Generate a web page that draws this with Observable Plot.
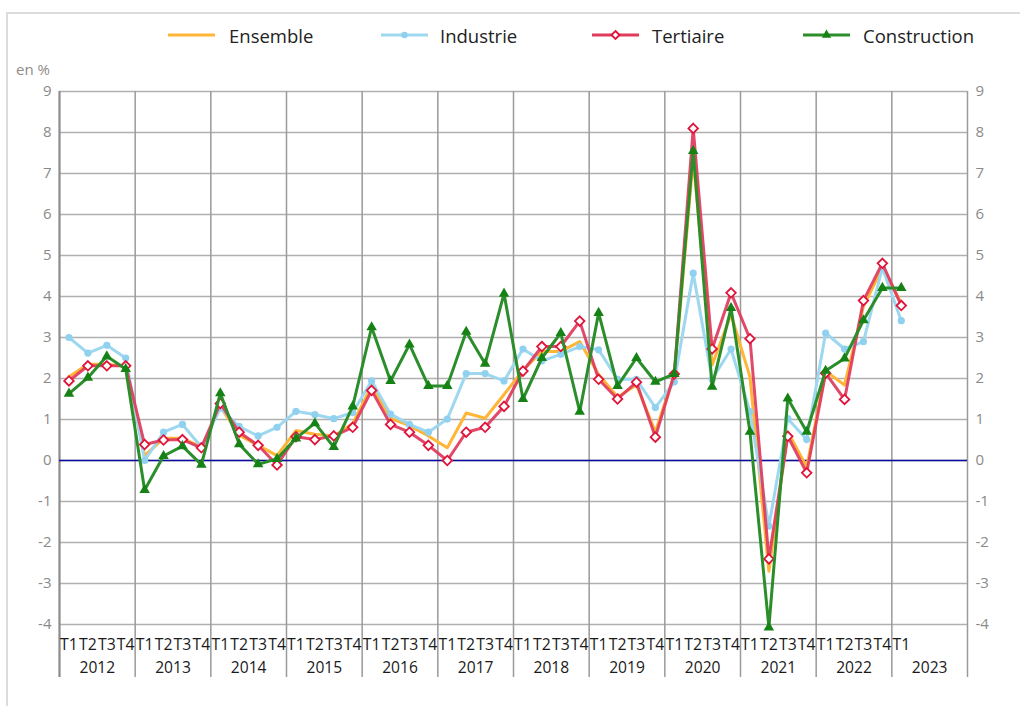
<!DOCTYPE html>
<html>
<head>
<meta charset="utf-8">
<script src="https://cdn.jsdelivr.net/npm/d3@7"></script>
<script src="https://cdn.jsdelivr.net/npm/@observablehq/plot@0.6"></script>
<style>
  html, body { margin: 0; padding: 0; background: #fff; }
  #chart { position: relative; width: 1020px; height: 706px; overflow: hidden; font-family: "Open Sans", sans-serif; }
  #frame { position: absolute; left: 6px; top: 12px; width: 1030px; height: 720px; border-left: 2px solid #dcdcdc; border-top: 2px solid #dcdcdc; }
  #plot { position: absolute; left: 0; top: 0; }
  #unit { position: absolute; left: 16px; top: 59px; font-size: 15px; color: #8c8c8c; }
  .leg { position: absolute; top: 22px; height: 26px; display: flex; align-items: center; }
  .leg span { font-size: 18.5px; color: #222; }
</style>
</head>
<body>
<div id="chart">
  <div id="frame"></div>
  <div id="plot"></div>
  <div id="unit">en %</div>
  <div id="legend"></div>
</div>
<script>
// ---- Data ----
const years = [2012, 2013, 2014, 2015, 2016, 2017, 2018, 2019, 2020, 2021, 2022, 2023];
const quarterNames = ["T1", "T2", "T3", "T4"];
const yTicks = [-4, -3, -2, -1, 0, 1, 2, 3, 4, 5, 6, 7, 8, 9];

const ensemble = [
  2.04, 2.35, 2.35, 2.30,
  0.12, 0.54, 0.54, 0.33,
  1.32, 0.62, 0.37, 0.12,
  0.73, 0.64, 0.60, 0.90,
  1.82, 1.03, 0.85, 0.60,
  0.31, 1.16, 1.03, 1.61,
  2.20, 2.66, 2.66, 2.90,
  2.10, 1.55, 1.84, 0.70,
  2.09, 7.35, 2.33, 3.56,
  2.04, -2.70, 0.70, -0.16,
  2.18, 1.84, 3.76, 4.70,
  3.84
];
const industrie = [
  3.00, 2.62, 2.81, 2.50,
  0.00, 0.69, 0.88, 0.33,
  1.28, 0.83, 0.60, 0.81,
  1.20, 1.12, 1.02, 1.17,
  1.94, 1.13, 0.88, 0.69,
  1.01, 2.12, 2.12, 1.94,
  2.72, 2.43, 2.59, 2.78,
  2.70, 1.98, 1.98, 1.29,
  1.92, 4.57, 1.98, 2.72,
  1.19, -1.60, 1.02, 0.51,
  3.11, 2.72, 2.90, 4.70,
  3.41
];
const tertiaire = [
  1.94, 2.31, 2.31, 2.31,
  0.39, 0.50, 0.51, 0.31,
  1.39, 0.69, 0.37, -0.11,
  0.58, 0.51, 0.60, 0.81,
  1.71, 0.88, 0.69, 0.37,
  0.00, 0.69, 0.81, 1.32,
  2.18, 2.78, 2.78, 3.40,
  1.98, 1.50, 1.91, 0.57,
  2.11, 8.10, 2.72, 4.09,
  2.97, -2.40, 0.59, -0.30,
  2.13, 1.49, 3.90, 4.81,
  3.78
];
const construction = [
  1.63, 2.02, 2.54, 2.23,
  -0.72, 0.11, 0.35, -0.10,
  1.64, 0.40, -0.09, 0.04,
  0.54, 0.91, 0.33, 1.32,
  3.25, 1.94, 2.83, 1.82,
  1.82, 3.14, 2.36, 4.07,
  1.50, 2.50, 3.11, 1.19,
  3.60, 1.82, 2.50, 1.92,
  2.11, 7.55, 1.80, 3.72,
  0.70, -4.07, 1.51, 0.70,
  2.19, 2.49, 3.42, 4.21,
  4.21
];

// ---- Derived tables ----
const nQ = ensemble.length;
const quarterLabels = d3.range(nQ).map(i => quarterNames[i % 4]);
const yearBounds = d3.range(0, years.length * 4 + 1, 4);

const series = [
  {name: "Ensemble", values: ensemble, line: "#ffb535", marker: null},
  {name: "Industrie", values: industrie, line: "#9dd7f0", marker: {symbol: "circle", r: 3.6, fill: "#8fd1ee", stroke: "none"}},
  {name: "Tertiaire", values: tertiaire, line: "#e03a5c", marker: {symbol: "diamond2", r: 4.3, fill: "#fff", stroke: "#e0143a", strokeWidth: 1.8}},
  {name: "Construction", values: construction, line: "#2b8e2b", marker: {symbol: "triangle", r: 3.9, fill: "#168216", stroke: "none"}}
];

const seriesMarks = series.flatMap(s => {
  const rows = s.values.map((v, i) => ({q: i + 0.5, v}));
  const m = [Plot.line(rows, {x: "q", y: "v", stroke: s.line, strokeWidth: 3, strokeLinejoin: "round", strokeOpacity: s.name === "Tertiaire" ? 0.92 : 1})];
  if (s.marker) m.push(Plot.dot(rows, {x: "q", y: "v", ...s.marker}));
  return m;
});

const chart = Plot.plot({
  width: 1020,
  height: 706,
  marginTop: 91,
  marginBottom: 82,
  marginLeft: 59,
  marginRight: 53,
  x: {type: "linear", domain: [0, years.length * 4], axis: null},
  y: {domain: [-4, 9], axis: null},
  style: {fontFamily: "'Open Sans', sans-serif", background: "transparent", overflow: "visible"},
  marks: [
    Plot.ruleY(yTicks, {stroke: "#b0b0b0", strokeWidth: 1.5}),
    Plot.ruleX(yearBounds, {stroke: "#9a9a9a", strokeWidth: 1.5, insetBottom: -53}),
    Plot.ruleX([0], {stroke: "#8c8c8c", strokeWidth: 2, insetBottom: -53}),
    Plot.ruleY([0], {stroke: "#0a0aa0", strokeWidth: 1.6}),
    Plot.axisY(yTicks, {anchor: "left", tickSize: 0, tickPadding: 8, fill: "#8a8a8a", fontSize: 15, label: null, tickFormat: d => String(d)}),
    Plot.axisY(yTicks, {anchor: "right", tickSize: 0, tickPadding: 8, fill: "#8a8a8a", fontSize: 15, label: null, tickFormat: d => String(d)}),
    Plot.text(quarterLabels, {x: (d, i) => i + 0.5, frameAnchor: "bottom", dy: 20, text: d => d, fontSize: 15.8, fill: "#1a1a1a", lineAnchor: "middle"}),
    Plot.text(years, {x: (d, i) => i * 4 + 2, frameAnchor: "bottom", dy: 43.5, text: d => String(d), fontSize: 15.6, fill: "#1a1a1a", lineAnchor: "middle"}),
    ...seriesMarks
  ]
});
document.getElementById("plot").appendChild(chart);

// ---- Legend ----
const legendPos = [
  {line: 168, text: 229},
  {line: 381, text: 440},
  {line: 592, text: 652},
  {line: 803, text: 863}
];
const legend = document.getElementById("legend");
series.forEach((s, k) => {
  const p = legendPos[k];
  const svg = d3.create("svg").attr("width", 48).attr("height", 14)
    .style("position", "absolute").style("left", p.line + "px").style("top", "28px");
  svg.append("line").attr("x1", 0).attr("x2", 47).attr("y1", 7).attr("y2", 7)
    .attr("stroke", s.line).attr("stroke-width", 3);
  if (s.marker) {
    const sym = {circle: d3.symbolCircle, diamond2: d3.symbolDiamond2, triangle: d3.symbolTriangle}[s.marker.symbol];
    const size = Math.PI * s.marker.r * s.marker.r;
    svg.append("path").attr("transform", "translate(23.5,7)")
      .attr("d", d3.symbol(sym, s.name === "Tertiaire" ? size * 0.7 : size * 0.8)())
      .attr("fill", s.marker.fill).attr("stroke", s.marker.stroke)
      .attr("stroke-width", s.marker.strokeWidth || 0);
  }
  legend.appendChild(svg.node());
  const div = document.createElement("div");
  div.className = "leg";
  div.style.left = p.text + "px";
  div.innerHTML = `<span>${s.name}</span>`;
  legend.appendChild(div);
});
</script>
</body>
</html>
